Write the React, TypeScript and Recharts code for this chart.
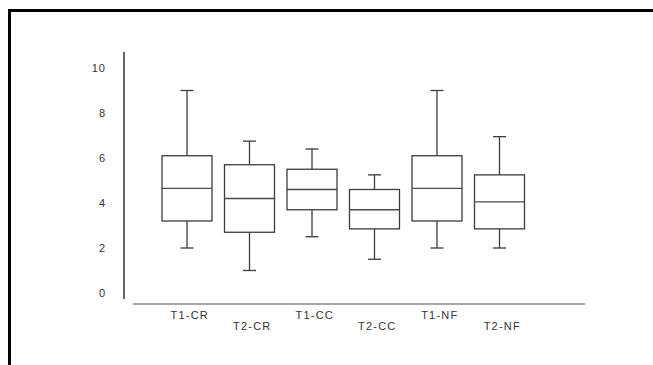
import { ComposedChart, Bar, XAxis, YAxis } from "recharts"

const categories = ["T1-CR", "T2-CR", "T1-CC", "T2-CC", "T1-NF", "T2-NF"]
const whiskerLow = [2.0, 1.0, 2.5, 1.5, 2.0, 2.0]
const q1 = [3.2, 2.7, 3.7, 2.85, 3.2, 2.85]
const median = [4.65, 4.2, 4.6, 3.7, 4.65, 4.05]
const q3 = [6.1, 5.7, 5.5, 4.6, 6.1, 5.25]
const whiskerHigh = [9.0, 6.75, 6.4, 5.25, 9.0, 6.95]
const yTicks = [0, 2, 4, 6, 8, 10]

const data = categories.map((name, i) => ({
  name,
  low: whiskerLow[i],
  q1: q1[i],
  median: median[i],
  q3: q3[i],
  high: whiskerHigh[i],
}))

const font = "'Liberation Sans', Arial, sans-serif"
const boxStroke = "#3c3c3c"

function BoxShape(props: any) {
  const { x, y, width, height, payload } = props
  const { low, high } = payload
  const py = (v: number) => y + (height * (high - v)) / (high - low)
  const cx = x + width / 2
  const cap = 6.5
  return (
    <g stroke={boxStroke} strokeWidth={1.3} fill="none">
      <line x1={cx} x2={cx} y1={py(high)} y2={py(payload.q3)} />
      <line x1={cx} x2={cx} y1={py(payload.q1)} y2={py(low)} />
      <line x1={cx - cap} x2={cx + cap} y1={py(high)} y2={py(high)} />
      <line x1={cx - cap} x2={cx + cap} y1={py(low)} y2={py(low)} />
      <rect x={x} y={py(payload.q3)} width={width} height={py(payload.q1) - py(payload.q3)} fill="#fff" />
      <line x1={x} x2={x + width} y1={py(payload.median)} y2={py(payload.median)} stroke="#4a4a4a" />
    </g>
  )
}

function StaggeredTick(props: any) {
  const { x, y, payload } = props
  const row = categories.indexOf(payload.value) % 2
  return (
    <text
      x={x + 2.5}
      y={y + (row ? 26 : 14.5)}
      textAnchor="middle"
      fill="#333"
      fontSize={11}
      fontFamily={font}
      letterSpacing={1.2}
    >
      {payload.value}
    </text>
  )
}

export default function App() {
  return (
    <div>
      <div
        style={{
          position: "absolute",
          left: 8,
          top: 9,
          width: 645,
          height: 356,
          boxSizing: "border-box",
          borderTop: "3px solid #000",
          borderLeft: "3px solid #000",
          background: "#fff",
        }}
      />
      <div style={{ position: "absolute", left: 0, top: 0 }}>
        <ComposedChart width={653} height={365} data={data} margin={{ top: 52, right: 68, bottom: 21, left: 0 }}>
          <XAxis xAxisId="gap" dataKey="name" height={5} axisLine={false} tickLine={false} tick={false} />
          <XAxis
            xAxisId="main"
            dataKey="name"
            height={40}
            padding={{ left: 23, right: 54 }}
            axisLine={{ stroke: "#8a8a8a", strokeWidth: 1.6 }}
            tickLine={false}
            tickSize={0}
            tickMargin={0}
            interval={0}
            tick={<StaggeredTick />}
          />
          <YAxis yAxisId="gap" width={9} domain={[0, 10]} axisLine={false} tickLine={false} tick={false} />
          <YAxis
            yAxisId="main"
            width={124}
            domain={[0, 10]}
            ticks={yTicks}
            padding={{ top: 16, bottom: 6 }}
            axisLine={{ stroke: "#333", strokeWidth: 1.5 }}
            tickLine={false}
            tickSize={0}
            tickMargin={18}
            tick={{ fill: "#333", fontSize: 11, fontFamily: font, letterSpacing: 1 }}
          />
          <Bar
            xAxisId="main"
            yAxisId="main"
            dataKey={(d: any) => [d.low, d.high]}
            barSize={50}
            shape={<BoxShape />}
            isAnimationActive={false}
          />
        </ComposedChart>
      </div>
    </div>
  )
}
